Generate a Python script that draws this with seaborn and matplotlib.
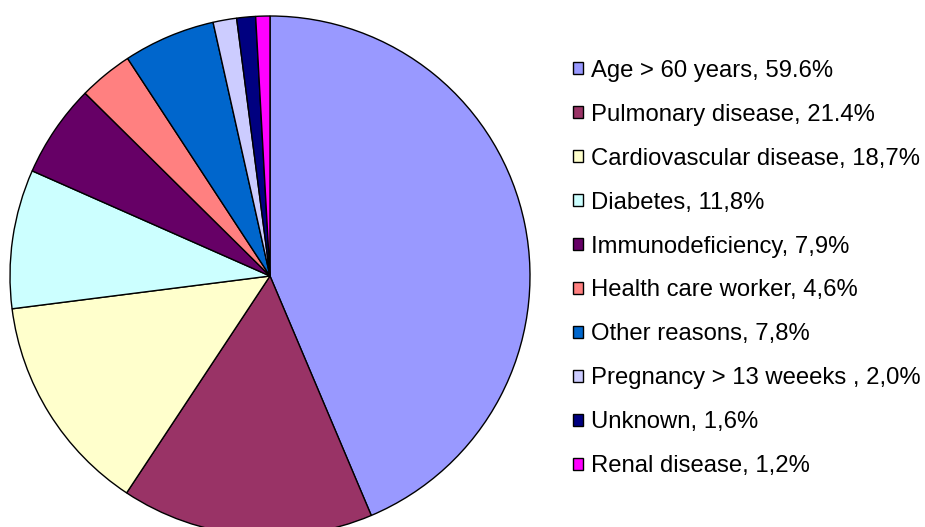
import matplotlib
matplotlib.use("Agg")
import matplotlib.pyplot as plt
import seaborn as sns

sns.set_theme(style="white")
plt.rcParams['font.family'] = ['Liberation Sans', 'DejaVu Sans']

categories = ["Age > 60 years", "Pulmonary disease", "Cardiovascular disease",
              "Diabetes", "Immunodeficiency", "Health care worker",
              "Other reasons", "Pregnancy > 13 weeeks ", "Unknown", "Renal disease"]
values = [59.6, 21.4, 18.7, 11.8, 7.9, 4.6, 7.8, 2.0, 1.6, 1.2]
value_labels = ["59.6%", "21.4%", "18,7%", "11,8%", "7,9%", "4,6%",
                "7,8%", "2,0%", "1,6%", "1,2%"]
colors = ["#9999FF", "#993366", "#FFFFCC", "#CCFFFF", "#660066",
          "#FF8080", "#0066CC", "#CCCCFF", "#000080", "#FF00FF"]

W, H = 925, 527
fig = plt.figure(figsize=(W / 100, H / 100), dpi=100)
fig.patch.set_facecolor("white")

cx, cy, r = 270, 276, 260
ax = fig.add_axes([(cx - r) / W, (H - cy - r) / H, 2 * r / W, 2 * r / H])
wedges, _ = ax.pie(values, colors=colors, startangle=90, counterclock=False,
                   wedgeprops=dict(edgecolor="black", linewidth=1.0))
ax.set_xlim(-1, 1)
ax.set_ylim(-1, 1)
ax.set_aspect("equal")
ax.axis("off")

labels = [f"{c}, {v}" for c, v in zip(categories, value_labels)]
leg = fig.legend(wedges, labels, loc="center left",
                 bbox_to_anchor=(573 / W, (H - 268.5) / H),
                 frameon=False, fontsize=17.2, handlelength=0.42, handleheight=0.42,
                 handletextpad=0.33, labelspacing=0.92, borderpad=0, borderaxespad=0,
                 labelcolor="black")
for h in leg.legend_handles:
    h.set_linewidth(1.0)
    h.set_edgecolor("black")

fig.savefig("out.png", dpi=100, facecolor="white")
